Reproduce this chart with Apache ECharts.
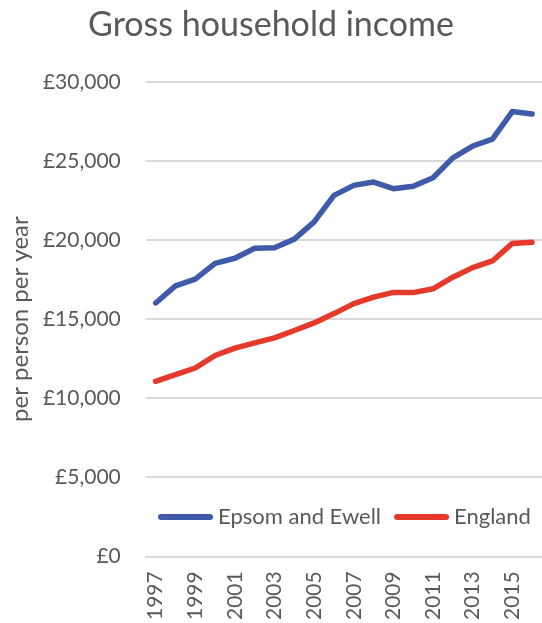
<!DOCTYPE html>
<html>
<head>
<meta charset="utf-8">
<script src="https://cdn.jsdelivr.net/npm/echarts@6/dist/echarts.min.js"></script>
<style>
  html, body { margin: 0; padding: 0; background: #fff; }
  #chart { width: 542px; height: 623px; }
</style>
</head>
<body>
<div id="chart"></div>
<script>
// Gross household income per person per year, 1997–2016
const years = ['1997','1998','1999','2000','2001','2002','2003','2004','2005','2006',
               '2007','2008','2009','2010','2011','2012','2013','2014','2015','2016'];
const epsomEwell = [16020, 17100, 17530, 18530, 18850, 19480, 19520, 20060, 21150, 22830,
                    23460, 23670, 23250, 23400, 23940, 25200, 25950, 26390, 28130, 27970];
const england = [11070, 11490, 11910, 12700, 13170, 13500, 13820, 14280, 14760, 15350,
                 15980, 16390, 16690, 16680, 16920, 17650, 18260, 18680, 19790, 19870];
const seriesNames = ['Epsom and Ewell', 'England'];
const seriesColors = ['#3F5AA8', '#E5392B'];

const FONT = 'Lato';
const TEXT = '#595959';

function pounds(v) {
  return '£' + String(v).replace(/\B(?=(\d{3})+(?!\d))/g, ',');
}

const chart = echarts.init(document.getElementById('chart'), null, { renderer: 'canvas' });

// rounded bar used as the legend key
const pill = 'path://M3,0 L52,0 A3,3 0 0 1 52,6 L3,6 A3,3 0 0 1 3,0 Z';

chart.setOption({
  animation: false,
  backgroundColor: '#ffffff',
  textStyle: { fontFamily: FONT, color: TEXT },
  title: {
    text: 'Gross household income',
    left: 'center',
    top: 8,
    padding: 0,
    textStyle: { fontFamily: FONT, fontSize: 34, fontWeight: 'normal', color: TEXT }
  },
  legend: {
    left: 158,
    top: 506,
    padding: 0,
    itemWidth: 55,
    itemHeight: 6,
    itemGap: 13,
    icon: pill,
    textStyle: { fontFamily: FONT, fontSize: 22, color: TEXT },
    data: seriesNames
  },
  grid: { left: 143, top: 82, width: 401, height: 476, containLabel: false },
  xAxis: {
    type: 'category',
    data: years,
    boundaryGap: true,
    axisLine: { show: true, lineStyle: { color: '#D9D9D9', width: 2 } },
    axisTick: { show: false },
    axisLabel: {
      rotate: 90,
      interval: 1,
      margin: 15,
      fontFamily: FONT,
      fontSize: 21,
      color: TEXT
    },
    splitLine: { show: false }
  },
  yAxis: {
    type: 'value',
    min: 0,
    max: 30000,
    interval: 5000,
    name: 'per person per year',
    nameLocation: 'middle',
    nameRotate: 90,
    nameGap: 109,
    nameTextStyle: { fontFamily: FONT, fontSize: 24, color: TEXT },
    axisLine: { show: false },
    axisTick: { show: false },
    axisLabel: {
      formatter: pounds,
      margin: 25,
      fontFamily: FONT,
      fontSize: 21,
      color: TEXT
    },
    splitLine: { show: true, lineStyle: { color: '#D9D9D9', width: 2 } }
  },
  series: [
    {
      name: seriesNames[0],
      type: 'line',
      data: epsomEwell,
      color: seriesColors[0],
      showSymbol: false,
      symbol: 'none',
      lineStyle: { width: 5.5, color: seriesColors[0], cap: 'round', join: 'round' }
    },
    {
      name: seriesNames[1],
      type: 'line',
      data: england,
      color: seriesColors[1],
      showSymbol: false,
      symbol: 'none',
      lineStyle: { width: 5.5, color: seriesColors[1], cap: 'round', join: 'round' }
    }
  ]
});
</script>
</body>
</html>
